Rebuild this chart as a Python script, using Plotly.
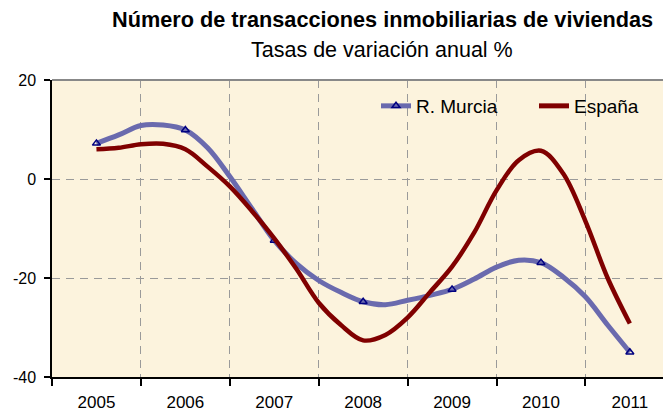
import plotly.graph_objects as go

# ---------------- data ----------------
years = ["2005", "2006", "2007", "2008", "2009", "2010", "2011"]
quarters_per_year = 4

# quarterly annual growth rates (%), one value every quarter, 2005 .. 2011 (first quarter)
murcia = [7.2, 8.9, 10.8, 10.9, 9.9, 6.3, 0.5, -6.0, -12.4, -17.1, -20.5, -22.9,
          -24.8, -25.4, -24.5, -23.5, -22.3, -20.2, -17.8, -16.4, -16.9, -19.8,
          -23.8, -29.5, -35.0]
espana = [6.0, 6.3, 7.0, 7.1, 6.0, 2.5, -1.5, -6.5, -12.0, -18.2, -25.0, -29.5,
          -32.6, -31.5, -28.0, -22.9, -17.7, -10.8, -2.3, 3.8, 5.7, 1.1,
          -8.5, -20.0, -29.2]

y_ticks = [-40, -20, 0, 20]
y_tick_labels = ["-40", "-20", "0", "20"]

title = "Número de transacciones inmobiliarias de viviendas"
subtitle = "Tasas de variación anual %"
name_murcia = "R. Murcia"
name_espana = "España"

# ---------------- styles ----------------
FONT = "Liberation Sans, Arial, sans-serif"
C_MURCIA = "#6A6AAE"
C_MARK = "#000080"
C_ESP = "#800000"

x = [i / quarters_per_year for i in range(len(murcia))]
mk_x = [x[i] for i in range(len(murcia)) if i % quarters_per_year == 0]
mk_y = [murcia[i] for i in range(len(murcia)) if i % quarters_per_year == 0]

fig = go.Figure()
fig.add_trace(go.Scatter(x=x, y=murcia, mode="lines", showlegend=False,
                         line=dict(color=C_MURCIA, width=5, shape="spline", smoothing=1.0),
                         hoverinfo="skip"))
fig.add_trace(go.Scatter(x=mk_x, y=mk_y, mode="markers", showlegend=False,
                         marker=dict(symbol="triangle-up-open", size=7, color=C_MARK,
                                     line=dict(width=1.5, color=C_MARK))))
fig.add_trace(go.Scatter(x=x, y=espana, mode="lines", showlegend=False,
                         line=dict(color=C_ESP, width=4.5, shape="spline", smoothing=1.0)))

# legend entries
fig.add_trace(go.Scatter(x=[None], y=[None], mode="lines+markers", name=name_murcia,
                         line=dict(color=C_MURCIA, width=5),
                         marker=dict(symbol="triangle-up-open", size=7, color=C_MARK,
                                     line=dict(width=1.5, color=C_MARK))))
fig.add_trace(go.Scatter(x=[None], y=[None], mode="lines", name=name_espana,
                         line=dict(color=C_ESP, width=5)))

W, H = 663, 412
L, R, T, B = 52, 0, 80, 35
plot_w = W - L - R
plot_h = H - T - B
px_per_year = 88.9


def px_x(p):
    return (p - L) / plot_w


def px_y(p):
    return 1 - (p - T) / plot_h


fig.update_layout(
    width=W, height=H,
    margin=dict(l=L, r=R, t=T, b=B, autoexpand=False),
    paper_bgcolor="white",
    plot_bgcolor="#FCF3DD",
    font=dict(family=FONT, size=16, color="black"),
    showlegend=True,
    legend=dict(orientation="h", x=px_x(376), y=px_y(106),
                xanchor="left", yanchor="middle", bgcolor="rgba(0,0,0,0)",
                font=dict(size=19, family=FONT), entrywidth=113, itemwidth=30,
                traceorder="normal"),
    xaxis=dict(range=[-0.5, -0.5 + plot_w / px_per_year], automargin=False,
               tickmode="array", tickvals=list(range(len(years))), ticktext=years,
               ticks="", showgrid=False, zeroline=False,
               showline=True, linecolor="black", linewidth=2,
               tickfont=dict(size=17), ticklabelstandoff=9,
               minor=dict(tickmode="linear", tick0=-0.5, dtick=1, ticks="outside",
                          ticklen=7, tickwidth=1.5, tickcolor="black",
                          showgrid=True, gridcolor="#9A9A9A", gridwidth=1,
                          griddash="8px,6px")),
    yaxis=dict(range=[-40, 20], automargin=False, tickmode="array",
               tickvals=y_ticks, ticktext=y_tick_labels,
               ticks="outside", ticklen=6, tickwidth=1.5, tickcolor="black",
               showline=True, linecolor="black", linewidth=1.5,
               showgrid=True, gridcolor="#9A9A9A", gridwidth=1, griddash="8px,6px",
               zeroline=False, tickfont=dict(size=16), ticklabelstandoff=5),
    annotations=[
        dict(text="<b>" + title + "</b>", xref="paper", yref="paper",
             x=px_x(382), y=px_y(19.5),
             xanchor="center", yanchor="middle", showarrow=False,
             font=dict(size=21.7, family=FONT)),
        dict(text=subtitle, xref="paper", yref="paper",
             x=px_x(382), y=px_y(50),
             xanchor="center", yanchor="middle", showarrow=False,
             font=dict(size=21.5, family=FONT)),
    ],
    shapes=[dict(type="line", xref="paper", yref="paper", x0=0, x1=1, y0=1, y1=1,
                 line=dict(color="#888888", width=2))],
)

fig.write_html("out.html", config={"displayModeBar": False},
               post_script=["document.body.style.margin='0';document.body.style.padding='0';"])
